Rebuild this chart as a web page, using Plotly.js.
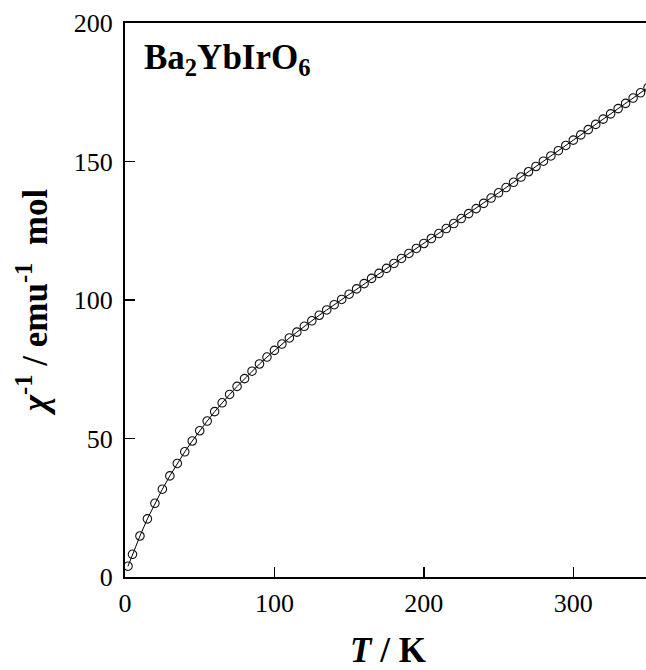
<!DOCTYPE html>
<html>
<head>
<meta charset="utf-8">
<script src="https://cdn.plot.ly/plotly-3.0.1.min.js"></script>
<style>
  html, body { margin: 0; padding: 0; overflow: hidden; background: #fff; }
  #chart { width: 651px; height: 670px; }
</style>
</head>
<body>
<div id="chart"></div>
<script>
// Temperature (K)
const temperature = [2, 5, 10, 15, 20, 25, 30, 35, 40, 45, 50, 55, 60, 65, 70, 75, 80, 85, 90, 95,
  100, 105, 110, 115, 120, 125, 130, 135, 140, 145, 150, 155, 160, 165, 170, 175, 180, 185, 190, 195,
  200, 205, 210, 215, 220, 225, 230, 235, 240, 245, 250, 255, 260, 265, 270, 275, 280, 285, 290, 295,
  300, 305, 310, 315, 320, 325, 330, 335, 340, 345, 350];
// Inverse susceptibility (emu^-1 mol)
const invChi = [3.9, 8.2, 14.8, 21.0, 26.6, 31.7, 36.5, 41.0, 45.2, 49.1, 52.8, 56.3, 59.7, 62.9, 65.9, 68.8, 71.6, 74.3, 76.9, 79.4,
  81.8, 84.1, 86.3, 88.4, 90.5, 92.5, 94.5, 96.4, 98.3, 100.2, 102.1, 104.0, 105.9, 107.8, 109.6, 111.4, 113.2, 115.0, 116.8, 118.6,
  120.4, 122.2, 124.0, 125.8, 127.6, 129.4, 131.2, 133.0, 134.9, 136.8, 138.7, 140.6, 142.5, 144.4, 146.3, 148.2, 150.1, 152.0, 153.9, 155.8,
  157.7, 159.6, 161.5, 163.4, 165.3, 167.2, 169.1, 171.0, 172.9, 174.8, 176.7];
const xTicks = [0, 100, 200, 300];
const yTicks = [0, 50, 100, 150, 200];
const compoundLabel = 'Ba<sub>2</sub>YbIrO<sub>6</sub>';

const serif = 'Liberation Serif, Times New Roman, serif';

const trace = {
  x: temperature,
  y: invChi,
  type: 'scatter',
  mode: 'lines+markers',
  line: { color: '#000', width: 1 },
  marker: { symbol: 'circle-open', size: 8.5, color: '#111', line: { width: 1.1, color: '#111' } },
  hoverinfo: 'x+y',
  cliponaxis: true
};

const axisCommon = {
  showline: true, linewidth: 2, linecolor: '#000', mirror: true,
  ticks: 'inside', ticklen: 10, tickwidth: 1.5, tickcolor: '#000',
  showgrid: false, zeroline: false,
  tickfont: { family: serif, size: 26, color: '#000' }
};

const layout = {
  width: 651, height: 670,
  margin: { l: 125, r: 0, t: 23, b: 93 },
  paper_bgcolor: '#fff', plot_bgcolor: '#fff',
  showlegend: false,
  xaxis: Object.assign({}, axisCommon, {
    range: [0, 352], tickvals: xTicks, ticktext: xTicks.map(String),
    ticklabelstandoff: 2,
    title: { text: '<b><i>T</i> / K</b>', font: { family: serif, size: 35, color: '#000' }, standoff: 24 }
  }),
  yaxis: Object.assign({}, axisCommon, {
    range: [0, 200], tickvals: yTicks, ticktext: yTicks.map(String),
    ticklabelstandoff: 5,
    title: { text: '<b><i>χ</i><sup>-1</sup> / emu<sup>-1</sup>  mol</b>', font: { family: serif, size: 35, color: '#000' }, standoff: 16 }
  }),
  annotations: [{
    text: '<b>' + compoundLabel + '</b>',
    xref: 'paper', yref: 'paper',
    x: 0.032, y: 0.935, xanchor: 'left', yanchor: 'middle',
    showarrow: false,
    font: { family: serif, size: 35, color: '#000' }
  }]
};

Plotly.newPlot('chart', [trace], layout, { staticPlot: true, displayModeBar: false });
</script>
</body>
</html>
